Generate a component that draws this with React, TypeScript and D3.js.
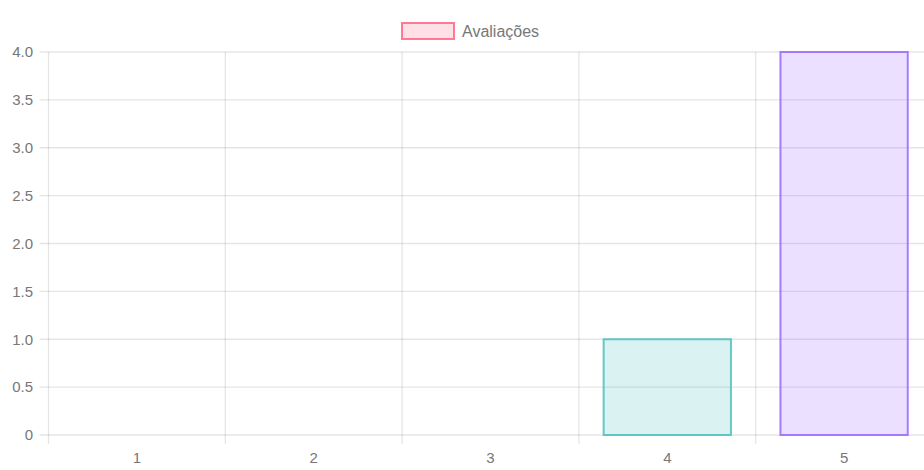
import React from "react";
import * as d3 from "d3";

const categories = ["1", "2", "3", "4", "5"];
const values = [0, 0, 0, 1, 4];
const yTicks = [0, 0.5, 1, 1.5, 2, 2.5, 3, 3.5, 4];
const seriesLabel = "Avaliações";
const fills = [
  "rgba(255,99,132,0.2)",
  "rgba(255,159,64,0.2)",
  "rgba(255,205,86,0.2)",
  "rgba(75,192,192,0.2)",
  "rgba(153,102,255,0.2)",
];
const strokes = [
  "rgb(255,99,132)",
  "rgb(255,159,64)",
  "rgb(255,205,86)",
  "rgb(75,192,192)",
  "rgb(153,102,255)",
];

const W = 924;
const H = 470;
const left = 48.5;
const catWidth = 176.8;
const right = left + catWidth * categories.length;
const top = 52;
const bottom = 435;
const FONT = "'Liberation Sans', Arial, Helvetica, sans-serif";
const GRID = "rgba(0,0,0,0.1)";

export default function App() {
  const x = d3.scaleBand<string>().domain(categories).range([left, right]).paddingInner(0).paddingOuter(0);
  const y = d3.scaleLinear().domain([0, 4]).range([bottom, top]);
  const barW = x.bandwidth() * 0.72;

  const fmt = (v: number) => (v === 0 ? "0" : d3.format(".1f")(v));
  const boundaries = categories.map((c) => x(c)!).concat([right]);

  return (
    <svg
      width={W}
      height={H}
      style={{ position: "fixed", left: 0, top: 0, background: "#fff" }}
      fontFamily={FONT}
    >
      {/* horizontal grid + y ticks */}
      {yTicks.map((t) => (
        <g key={"y" + t}>
          <line x1={left - 9} x2={W} y1={y(t)} y2={y(t)} stroke={GRID} strokeWidth={1.3} />
          <text x={33} y={y(t)} dy="0.35em" textAnchor="end" fontSize={15} fill="#777">
            {fmt(t)}
          </text>
        </g>
      ))}
      {/* vertical grid at category boundaries */}
      {boundaries.map((b, i) => (
        <line key={"v" + i} x1={b} x2={b} y1={top} y2={bottom + 9} stroke={GRID} strokeWidth={1.3} />
      ))}
      {/* x labels */}
      {categories.map((c) => (
        <text
          key={"x" + c}
          x={x(c)! + x.bandwidth() / 2}
          y={458}
          dy="0.35em"
          textAnchor="middle"
          fontSize={15}
          fill="#777"
        >
          {c}
        </text>
      ))}
      {/* bars */}
      {categories.map((c, i) => {
        const cx = x(c)! + x.bandwidth() / 2;
        const y0 = y(0);
        const y1 = y(values[i]);
        if (values[i] === 0) return null;
        return (
          <rect
            key={"b" + c}
            x={cx - barW / 2}
            y={y1}
            width={barW}
            height={y0 - y1}
            fill={fills[i]}
            stroke={strokes[i]}
            strokeWidth={2}
            strokeOpacity={0.85}
          />
        );
      })}
      {/* legend */}
      <rect x={402} y={23} width={52} height={16} fill={fills[0]} stroke={strokes[0]} strokeWidth={2} strokeOpacity={0.85} />
      <text x={462} y={31} dy="0.35em" fontSize={16} fill="#777">
        {seriesLabel}
      </text>
    </svg>
  );
}
